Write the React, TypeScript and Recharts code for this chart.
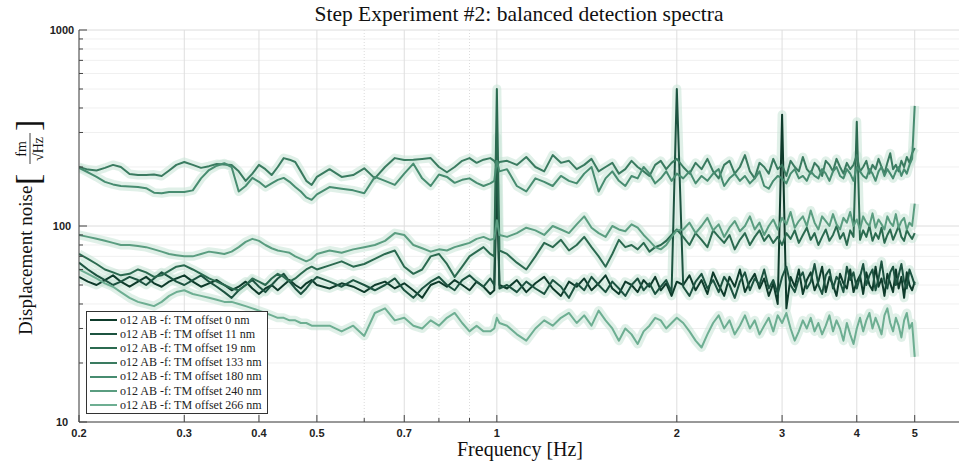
import { LineChart, Line, XAxis, YAxis, CartesianGrid } from "recharts";

// frequency grid [Hz]
const freqs = [
  0.2, 0.207, 0.214, 0.221, 0.228, 0.235, 0.243, 0.251, 0.259, 0.267, 0.275, 0.283, 0.291,
  0.3, 0.31, 0.32, 0.33, 0.34, 0.35, 0.36, 0.37, 0.38, 0.39, 0.4, 0.41, 0.42, 0.43, 0.44, 0.45, 0.46, 0.47, 0.48, 0.49, 0.5,
  0.525, 0.55, 0.575, 0.6, 0.625, 0.65, 0.675, 0.7, 0.725, 0.75, 0.775, 0.8, 0.825, 0.85, 0.875, 0.9, 0.925, 0.95, 0.975, 0.99, 1.0, 1.01,
  1.04, 1.08, 1.12, 1.16, 1.2, 1.24, 1.28, 1.32, 1.36, 1.4, 1.44, 1.48, 1.52, 1.56, 1.6, 1.64, 1.68, 1.72, 1.76, 1.8, 1.84, 1.88, 1.92, 1.96, 2.0,
  2.05, 2.1, 2.15, 2.2, 2.25, 2.3, 2.35, 2.4, 2.45, 2.5, 2.55, 2.6, 2.65, 2.7, 2.75, 2.8, 2.85, 2.9, 2.95, 3.0,
  3.05, 3.1, 3.15, 3.2, 3.25, 3.3, 3.35, 3.4, 3.45, 3.5, 3.55, 3.6, 3.65, 3.7, 3.75, 3.8, 3.85, 3.9, 3.95, 4.0,
  4.05, 4.1, 4.15, 4.2, 4.25, 4.3, 4.35, 4.4, 4.45, 4.5, 4.55, 4.6, 4.65, 4.7, 4.75, 4.8, 4.85, 4.9, 4.95, 5.0,
];

// displacement noise [fm/sqrt(Hz)] per offset
const off0 = [
  55, 52, 50, 53, 56, 52, 49, 52, 55, 51, 49, 52, 54,
  56, 52, 49, 51, 53, 50, 47, 49, 52, 48, 45, 48, 50, 47, 50, 53, 50, 48, 51, 53, 50,
  48, 51, 49, 46, 50, 52, 48, 51, 47, 43, 50, 52, 49, 53, 50, 47, 52, 49, 45, 47, 158, 50,
  48, 53, 46, 51, 55, 48, 44, 52, 49, 54, 47, 51, 56, 48, 45, 52, 50, 46, 53, 49, 55, 47, 51, 44, 52,
  50, 56, 47, 53, 45, 58, 50, 44, 55, 49, 60, 46, 52, 57, 48, 54, 44, 51, 40, 370,
  38, 55, 49, 60, 45, 53, 58, 47, 52, 62, 46, 55, 50, 44, 57, 51, 48, 60, 46, 52,
  56, 45, 58, 50, 47, 62, 49, 54, 44, 57, 51, 46, 60, 48, 55, 43, 58, 50, 47, 52,
];
const off11 = [
  65, 60, 56, 53, 50, 52, 55, 53, 50, 54, 58, 55, 52,
  50, 53, 56, 52, 49, 46, 43, 47, 50, 53, 49, 46, 50, 54, 57, 52, 48, 45, 48, 52, 55,
  52, 49, 53, 50, 47, 50, 54, 47, 43, 48, 52, 55, 50, 47, 53, 56, 52, 49, 54, 50, 284, 48,
  50, 46, 52, 48, 45, 53, 49, 43, 51, 47, 55, 50, 46, 52, 48, 44, 50, 54, 47, 51, 45, 49, 53, 46, 500,
  49, 44, 52, 57, 48, 53, 46, 55, 50, 43, 52, 58, 47, 54, 50, 60, 48, 53, 45, 55,
  62, 50, 46, 54, 58, 48, 52, 64, 50, 45, 56, 60, 48, 55, 52, 46, 62, 53, 58, 48,
  55, 64, 50, 56, 60, 47, 54, 66, 52, 48, 58, 62, 50, 56, 64, 52, 48, 60, 55, 50,
];
const off19 = [
  72, 68, 64, 60, 58, 56, 57, 60, 58, 55, 56, 59, 62,
  63, 60, 57, 54, 52, 50, 48, 47, 50, 54, 52, 50, 54, 57, 55, 52, 54, 57, 60, 62, 60,
  63, 66, 62, 64, 68, 72, 75, 62, 57, 60, 70, 72, 64, 55, 62, 70, 74, 78, 72, 70, 500, 75,
  72, 65, 60, 70, 82, 78, 85, 75, 80, 88, 78, 70, 62, 72, 85, 78, 80, 76, 82, 74, 78, 80, 84, 90, 96,
  88, 80, 92, 85, 78, 95, 88, 82, 90, 76, 85, 92, 80, 88, 95, 84, 90, 82, 88, 80,
  92, 86, 95, 82, 90, 98, 85, 92, 80, 88, 96, 84, 90, 100, 86, 92, 80, 95, 88, 340,
  85, 95, 88, 100, 84, 92, 86, 98, 82, 90, 96, 85, 92, 100, 88, 84, 95, 90, 86, 92,
];
const off133 = [
  200, 194, 192, 198, 205, 200, 184, 182, 182, 183, 180, 192, 205,
  212, 205, 198, 202, 207, 206, 205, 190, 170, 185, 205, 195, 182, 200, 222, 218, 212, 190, 170, 162, 178,
  195, 178, 182, 197, 175, 200, 222, 217, 218, 220, 222, 200, 188, 200, 215, 222, 210, 218, 222, 215, 205, 212,
  215, 205, 225, 200, 190, 230, 210, 215, 195, 205, 220, 190, 200, 210, 185, 195, 215, 200, 190, 180, 205, 215, 195, 210, 220,
  200, 185, 210, 195, 220, 190, 175, 205, 215, 185, 200, 230, 190, 175, 210, 200, 185, 220, 195, 205,
  180, 215, 200, 190, 225, 195, 185, 210, 200, 180, 215, 205, 190, 220, 200, 185, 210, 195, 205, 230,
  190, 200, 215, 185, 205, 195, 220, 200, 185, 210, 235, 195, 205, 190, 215, 200, 225, 210, 235, 250,
];
const off180 = [
  198, 188, 178, 168, 163, 160, 159, 158, 156, 148, 147, 149, 149,
  149, 152, 175, 193, 203, 209, 200, 150, 160, 176, 168, 158, 165, 172, 176, 168, 158, 150, 140, 136, 145,
  158, 155, 152, 147, 178, 170, 162, 185, 208, 175, 160, 183, 178, 166, 172, 175, 166, 160, 165, 170, 215, 190,
  195, 160, 150, 175, 168, 160, 180, 170, 165, 185, 200, 150, 175, 190, 170, 160, 180, 175, 200, 185, 165, 175, 190, 170, 185,
  175, 190, 165, 180, 170, 185, 195, 160, 175, 185, 170, 180, 165, 175, 190, 160, 155, 170, 180, 175,
  165, 185, 195, 175, 180, 170, 190, 180, 175, 195, 185, 170, 190, 200, 180, 175, 195, 185, 170, 200,
  190, 180, 175, 195, 185, 170, 190, 200, 180, 195, 185, 175, 190, 200, 180, 195, 185, 205, 220, 410,
];
const off240 = [
  90, 88, 86, 84, 82, 80, 80, 79, 78, 76, 74, 72, 71,
  70, 70, 72, 74, 73, 72, 74, 78, 83, 86, 84, 80, 77, 75, 74, 73, 70, 68, 66, 68, 72,
  75, 73, 76, 78, 80, 84, 92, 90, 80, 77, 74, 76, 75, 78, 80, 82, 86, 88, 85, 86, 107, 90,
  88, 92, 98, 95, 90, 100, 96, 92, 102, 112, 98, 92, 88, 100, 96, 94, 102, 98, 90, 84, 78, 76, 80, 88, 95,
  96, 104, 92, 100, 110, 95, 102, 88, 98, 106, 94, 100, 112, 96, 104, 90, 100, 108, 96, 110,
  102, 118, 98, 106, 112, 100, 120, 104, 96, 112, 106, 100, 115, 102, 96, 110, 104, 118, 100, 108,
  96, 112, 104, 100, 116, 98, 108, 102, 96, 112, 104, 100, 115, 98, 106, 110, 96, 104, 100, 130,
];
const off266 = [
  60, 57, 54, 51, 49, 46, 43, 41, 40, 39, 41, 44, 46,
  47, 45, 44, 43, 42, 41, 41, 40, 39, 38, 37, 36, 35, 34, 34, 33, 33, 32, 32, 31, 31,
  31, 29, 31, 27.5, 36, 38, 33, 34, 31, 30, 33, 31, 34, 36, 32, 29, 31, 29, 29, 30, 34, 32,
  31, 28, 26, 30, 33, 31, 34, 36, 32, 35, 31, 37, 33, 30, 26, 30, 28, 25, 29, 31, 34, 33, 30, 32, 34,
  32, 29, 26, 24, 28, 32, 35, 30, 33, 28, 31, 35, 30, 33, 28, 31, 34, 29, 35, 32,
  36, 30, 26, 29, 33, 30, 34, 29, 32, 28, 31, 35, 29, 33, 30, 26, 32, 28, 25, 30,
  34, 29, 33, 36, 30, 34, 31, 28, 35, 38, 32, 29, 34, 31, 27, 33, 36, 30, 32, 21.5,
];

const seriesNames = [
  "o12 AB -f: TM offset 0 nm",
  "o12 AB -f: TM offset 11 nm",
  "o12 AB -f: TM offset 19 nm",
  "o12 AB -f: TM offset 133 nm",
  "o12 AB -f: TM offset 180 nm",
  "o12 AB -f: TM offset 240 nm",
  "o12 AB -f: TM offset 266 nm",
];
const seriesColors = ["#0e3b2b", "#1c5340", "#2b6a50", "#3a7b60", "#478c70", "#5a9d80", "#6dae92"];
const seriesValues = [off0, off11, off19, off133, off180, off240, off266];

const xMajor = [0.2, 0.3, 0.4, 0.5, 0.7, 1, 2, 3, 4, 5];
const xMinor = [0.6, 0.8, 0.9];
const yMajor = [10, 100, 1000];
const yMinor = [20, 30, 40, 50, 60, 70, 80, 90, 200, 300, 400, 500, 600, 700, 800, 900];

const rows = freqs.map((f, i) => {
  const row: Record<string, number> = { f };
  seriesValues.forEach((vals, k) => {
    row["s" + k] = vals[i];
  });
  return row;
});

const tickFont = { fontFamily: '"Liberation Sans", Arial, sans-serif', fontSize: 11, fontWeight: 700, fill: "#222" };
const serif = '"Liberation Serif", "Times New Roman", serif';
const axisColor = "#444";

function BottomTick(props: any) {
  const { x, y, payload } = props;
  const major = xMajor.includes(payload.value);
  return (
    <g>
      <line x1={x} x2={x} y1={y} y2={y - (major ? 7 : 4)} stroke={axisColor} />
      {major && (
        <text x={x} y={y + 15} textAnchor="middle" {...tickFont}>
          {payload.value}
        </text>
      )}
    </g>
  );
}

function TopTick(props: any) {
  const { x, y, payload } = props;
  const major = xMajor.includes(payload.value);
  return <line x1={x} x2={x} y1={y} y2={y + (major ? 8 : 4)} stroke={axisColor} />;
}

function LeftTick(props: any) {
  const { x, y, payload } = props;
  const major = yMajor.includes(payload.value);
  return (
    <g>
      <line x1={x} x2={x + (major ? 8 : 4)} y1={y} y2={y} stroke={axisColor} />
      {major && (
        <text x={x - 17} y={y + 4} textAnchor="middle" {...tickFont}>
          {payload.value}
        </text>
      )}
    </g>
  );
}

function RightTick(props: any) {
  const { x, y, payload } = props;
  const major = yMajor.includes(payload.value);
  return <line x1={x} x2={x - (major ? 8 : 4)} y1={y} y2={y} stroke={axisColor} />;
}

export default function App() {
  return (
    <div style={{ position: "relative", width: 959, height: 465, background: "#fff" }}>
      <style>{"body{margin:0}"}</style>
      <LineChart width={959} height={465} data={rows} margin={{ top: 30, right: 0, bottom: 0, left: 0 }}>
        <CartesianGrid horizontalValues={yMinor} vertical={false} stroke="#f0f0f0" />
        <CartesianGrid horizontalValues={yMajor} vertical={false} stroke="#dcdcdc" />
        <CartesianGrid verticalValues={xMajor} horizontal={false} stroke="#dedede" />
        <CartesianGrid verticalValues={xMinor} horizontal={false} stroke="#dcdcdc" strokeDasharray="1 2" />
        <XAxis
          dataKey="f"
          type="number"
          scale="log"
          domain={[0.2, 5.93]}
          allowDataOverflow
          ticks={[...xMajor, ...xMinor]}
          interval={0}
          tick={<BottomTick />}
          tickLine={false}
          tickSize={0}
          tickMargin={0}
          height={43}
          axisLine={{ stroke: axisColor }}
        />
        <XAxis
          xAxisId="top"
          orientation="top"
          dataKey="f"
          type="number"
          scale="log"
          domain={[0.2, 5.93]}
          allowDataOverflow
          ticks={[...xMajor, ...xMinor]}
          interval={0}
          tick={<TopTick />}
          tickLine={false}
          tickSize={0}
          tickMargin={0}
          height={0}
          axisLine={{ stroke: axisColor }}
        />
        <YAxis
          type="number"
          scale="log"
          domain={[10, 1000]}
          allowDataOverflow
          ticks={[...yMajor, ...yMinor]}
          interval={0}
          tick={<LeftTick />}
          tickLine={false}
          tickSize={0}
          tickMargin={0}
          width={79}
          axisLine={{ stroke: axisColor }}
        />
        <YAxis
          yAxisId="r"
          orientation="right"
          type="number"
          scale="log"
          domain={[10, 1000]}
          allowDataOverflow
          ticks={[...yMajor, ...yMinor]}
          interval={0}
          tick={<RightTick />}
          tickLine={false}
          tickSize={0}
          tickMargin={0}
          width={0}
          axisLine={false}
        />
        {seriesColors.map((_, i) => (
          <Line
            key={"band" + i}
            dataKey={"s" + i}
            stroke="#c6e3d5"
            strokeOpacity={0.55}
            strokeWidth={9}
            strokeLinejoin="round"
            dot={false}
            activeDot={false}
            legendType="none"
            isAnimationActive={false}
          />
        ))}
        {seriesColors.map((c, i) => (
          <Line
            key={"line" + i}
            dataKey={"s" + i}
            name={seriesNames[i]}
            stroke={c}
            strokeWidth={2}
            strokeLinejoin="round"
            dot={false}
            activeDot={false}
            isAnimationActive={false}
          />
        ))}
      </LineChart>

      <svg width={959} height={465} style={{ position: "absolute", left: 0, top: 0, pointerEvents: "none" }}>
        <text x={519} y={21} textAnchor="middle" fontFamily={serif} fontSize={21.5} fill="#111">
          Step Experiment #2: balanced detection spectra
        </text>
        <text x={520} y={456} textAnchor="middle" fontFamily={serif} fontSize={20} fill="#111">
          Frequency [Hz]
        </text>
        <g transform="translate(32,226) rotate(-90)" fontFamily={serif} fill="#111">
          <text x={-109} y={0} fontSize={19}>
            Displacement noise
          </text>
          <text x={41} y={7} fontSize={34}>
            [
          </text>
          <text x={77} y={-6} fontSize={14} textAnchor="middle">
            fm
          </text>
          <line x1={62} x2={93} y1={-2} y2={-2} stroke="#111" strokeWidth={0.8} />
          <text x={77} y={11} fontSize={14} textAnchor="middle">
            √Hz
          </text>
          <text x={95} y={7} fontSize={34}>
            ]
          </text>
        </g>
      </svg>

      <div
        style={{
          position: "absolute",
          left: 86,
          top: 311,
          width: 182,
          height: 103,
          boxSizing: "border-box",
          border: "1px solid #333",
          background: "#fff",
          padding: "1px 0 0 3px",
          fontFamily: serif,
          fontSize: 12,
          color: "#222",
        }}
      >
        {seriesNames.map((n, i) => (
          <div key={n} style={{ display: "flex", alignItems: "center", height: 14.2, whiteSpace: "nowrap" }}>
            <span style={{ display: "inline-block", width: 27, borderTop: `2px solid ${seriesColors[i]}`, marginRight: 3 }} />
            {n}
          </div>
        ))}
      </div>
    </div>
  );
}
